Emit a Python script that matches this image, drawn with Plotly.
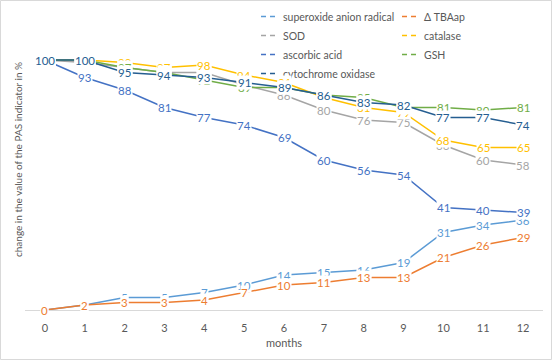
import plotly.graph_objects as go

months = list(range(13))
superoxide = [0, 2, 5, 5, 7, 10, 14, 15, 16, 19, 31, 34, 36]
tbaap = [0, 2, 3, 3, 4, 7, 10, 11, 13, 13, 21, 26, 29]
sod = [100, 99, 97, 95, 95, 90, 86, 80, 76, 75, 66, 60, 58]
catalase = [100, 100, 99, 97, 98, 94, 91, 85, 81, 79, 68, 65, 65]
ascorbic = [100, 93, 88, 81, 77, 74, 69, 60, 56, 54, 41, 40, 39]
gsh = [100, 100, 97, 95, 92, 89, 89, 86, 85, 81, 81, 80, 81]
cytochrome = [100, 100, 95, 94, 93, 91, 89, 86, 83, 82, 77, 77, 74]

series = [
    ("superoxide anion radical", superoxide, "#5B9BD5"),
    ("Δ TBAap", tbaap, "#ED7D31"),
    ("SOD", sod, "#A5A5A5"),
    ("catalase", catalase, "#FFC000"),
    ("ascorbic acid", ascorbic, "#4472C4"),
    ("GSH", gsh, "#70AD47"),
    ("cytochrome oxidase", cytochrome, "#255E91"),
]

FONT = "Lato"
GREY = "#595959"
ML, MR, MT, MB = 25, 9, 10, 50
PW, PH = 552 - ML - MR, 360 - MT - MB

fig = go.Figure()
annotations = []
for name, vals, col in series:
    fig.add_trace(go.Scatter(x=months, y=vals, mode="lines", name=name,
                             line=dict(color=col, width=1.5), showlegend=False,
                             cliponaxis=False, hoverinfo="x+y+name"))
    for xv, yv in zip(months, vals):
        annotations.append(dict(x=xv, y=yv, xref="x", yref="y", text=str(yv),
                                showarrow=False, bgcolor="white", borderpad=0,
                                font=dict(family=FONT, size=11.5, color=col)))
# legend entries (short dashed symbols), laid out in two columns like the reference
for i, (name, vals, col) in enumerate(series):
    fig.add_trace(go.Scatter(x=[None], y=[None], mode="lines", name=name,
                             legend="legend" if i % 2 == 0 else "legend2",
                             line=dict(color=col, width=1.5,
                                       dash="0px,13px,5px,4px,5px,10px")))

# y axis title
annotations.append(dict(text="change in the value of the PAS indicator in %",
                        xref="paper", yref="paper", x=(18 - ML) / PW, y=0.5,
                        textangle=-90, showarrow=False, xanchor="center", yanchor="middle",
                        font=dict(family=FONT, size=10, color=GREY)))

leg_common = dict(orientation="v", yanchor="top", xanchor="left", itemwidth=30,
                  xref="container", yref="container",
                  font=dict(family=FONT, size=10.5, color=GREY),
                  bgcolor="rgba(0,0,0,0)", tracegroupgap=0, traceorder="normal")

fig.update_layout(
    width=552, height=360,
    margin=dict(l=ML, r=MR, t=MT, b=MB, autoexpand=False),
    paper_bgcolor="white", plot_bgcolor="white",
    font=dict(family=FONT, color=GREY, size=11),
    showlegend=True,
    legend=dict(x=243/552, y=1 - 2/360, **leg_common),
    legend2=dict(x=384/552, y=1 - 2/360, **leg_common),
    xaxis=dict(range=[-0.5, 12.5], tickvals=months, ticktext=[str(m) for m in months],
               showgrid=False, zeroline=False, showline=True, linecolor="#D9D9D9",
               linewidth=1, ticks="", ticklabelstandoff=8,
               tickfont=dict(family=FONT, size=11, color=GREY),
               title=dict(text="months", font=dict(family=FONT, size=11, color=GREY),
                          standoff=6)),
    yaxis=dict(range=[0, 120], showgrid=False, zeroline=False, showline=False,
               showticklabels=False, ticks=""),
    annotations=annotations,
    shapes=[dict(type="rect", xref="paper", yref="paper",
                 x0=(-ML + 0.5) / PW, x1=1 + (MR - 0.5) / PW,
                 y0=(-MB + 0.5) / PH, y1=1 + (MT - 0.5) / PH,
                 line=dict(color="#D9D9D9", width=1), layer="below")],
)

fig.write_html("out.html", config={"displayModeBar": False},
               post_script="document.body.style.margin='0';document.body.style.overflow='hidden';")
